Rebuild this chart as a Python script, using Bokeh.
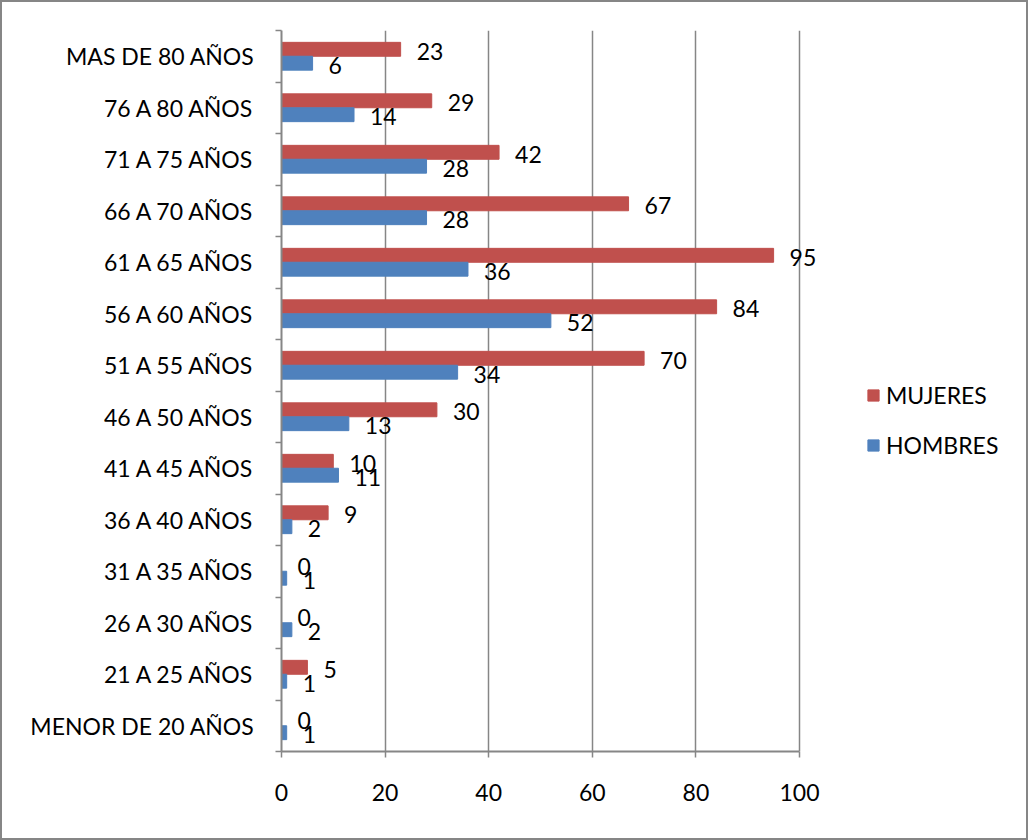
from bokeh.plotting import figure
from bokeh.models import (ColumnDataSource, FixedTicker, LabelSet, Legend, LegendItem, Range1d)
from bokeh.layouts import column
from bokeh.core.properties import value
from bokeh.embed import file_html
from bokeh.resources import INLINE

categories = ["MENOR DE 20 AÑOS", "21 A 25 AÑOS", "26 A 30 AÑOS", "31 A 35 AÑOS",
              "36 A 40 AÑOS", "41 A 45 AÑOS", "46 A 50 AÑOS", "51 A 55 AÑOS",
              "56 A 60 AÑOS", "61 A 65 AÑOS", "66 A 70 AÑOS", "71 A 75 AÑOS",
              "76 A 80 AÑOS", "MAS DE 80 AÑOS"]
mujeres = [0, 5, 0, 0, 9, 10, 30, 70, 84, 95, 67, 42, 29, 23]
hombres = [1, 1, 2, 1, 2, 11, 13, 34, 52, 36, 28, 28, 14, 6]
x_ticks = [0, 20, 40, 60, 80, 100]

FONT = "Lato"
FS = "23px"
GRAY = "#868686"
RED = "#C0504D"
BLUE = "#4F81BD"

n = len(categories)
centers = [i + 0.5 for i in range(n)]
bar_h = 0.27

src_m = ColumnDataSource(dict(y=[c + bar_h / 2 for c in centers], x=mujeres,
                              lbl=[str(v) for v in mujeres]))
src_h = ColumnDataSource(dict(y=[c - bar_h / 2 for c in centers], x=hombres,
                              lbl=[str(v) for v in hombres]))

W, H = 1024, 836
left, right, top, bottom = 279, 10, 28, 87
px_per_unit = 5.18
x_end = (W - left - right) / px_per_unit

p = figure(width=W, height=H, output_backend="svg", toolbar_location=None,
           x_range=Range1d(0, x_end), y_range=Range1d(0, n),
           min_border_left=left, min_border_right=right,
           min_border_top=top, min_border_bottom=bottom)
p.outline_line_color = None
p.background_fill_color = "white"
p.border_fill_color = "white"

r_m = p.hbar(y="y", right="x", left=0, height=bar_h, source=src_m,
             fill_color=RED, line_color=RED)
r_h = p.hbar(y="y", right="x", left=0, height=bar_h, source=src_h,
             fill_color=BLUE, line_color=BLUE)

for src in (src_m, src_h):
    p.add_layout(LabelSet(x="x", y="y", text="lbl", source=src,
                          x_offset=16, y_offset=-2,
                          text_align="left", text_baseline="middle",
                          text_font=value(FONT), text_font_size=value(FS),
                          text_color="black"))

# x axis
p.xaxis.ticker = FixedTicker(ticks=x_ticks, minor_ticks=[])
p.xaxis.bounds = (0, 100)
p.xaxis.axis_line_color = GRAY
p.xaxis.axis_line_width = 2
p.xaxis.major_tick_line_color = GRAY
p.xaxis.major_tick_line_width = 1.5
p.xaxis.major_tick_out = 6
p.xaxis.major_tick_in = 0
p.xaxis.major_label_standoff = 26
p.xaxis.major_label_text_font = FONT
p.xaxis.major_label_text_font_size = FS
p.xaxis.major_label_text_color = "black"

# y axis
p.yaxis.ticker = FixedTicker(ticks=centers, minor_ticks=list(range(n + 1)))
p.yaxis.major_label_overrides = {c: cat for c, cat in zip(centers, categories)}
p.yaxis.axis_line_color = GRAY
p.yaxis.axis_line_width = 2
p.yaxis.major_tick_line_color = None
p.yaxis.minor_tick_line_color = GRAY
p.yaxis.minor_tick_line_width = 1.5
p.yaxis.minor_tick_out = 6
p.yaxis.minor_tick_in = 0
p.yaxis.major_label_standoff = 21
p.yaxis.major_label_text_font = FONT
p.yaxis.major_label_text_font_size = FS
p.yaxis.major_label_text_color = "black"

p.xgrid.ticker = FixedTicker(ticks=x_ticks)
p.xgrid.grid_line_color = GRAY
p.xgrid.grid_line_width = 1.5
p.ygrid.grid_line_color = None

legend = Legend(items=[LegendItem(label="MUJERES", renderers=[r_m]),
                       LegendItem(label="HOMBRES", renderers=[r_h])],
                location=(585, 292), padding=0, margin=0, spacing=22,
                glyph_width=14, glyph_height=14, label_standoff=6,
                label_text_font=FONT, label_text_font_size=FS,
                label_text_color="black",
                border_line_color=None, background_fill_alpha=0)
p.add_layout(legend, "center")

layout = column(p, styles={"border": "2px solid #868686"})
open("out.html", "w").write(file_html(layout, INLINE))
